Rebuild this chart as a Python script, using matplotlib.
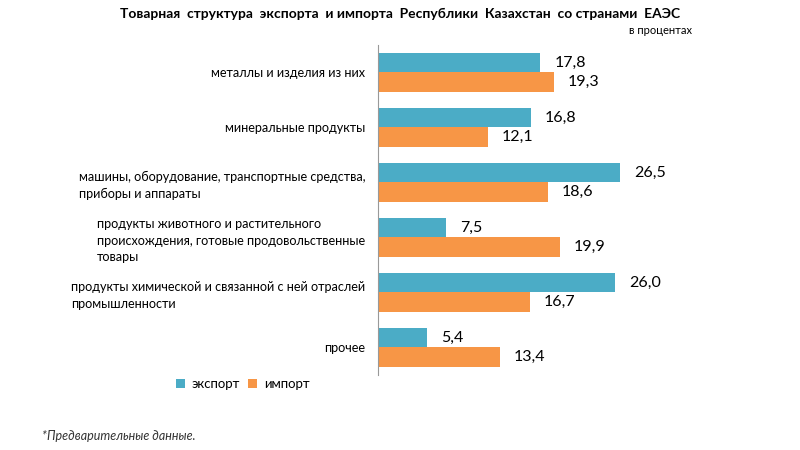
import matplotlib

matplotlib.use("Agg")
import matplotlib.pyplot as plt
import numpy as np

categories = [
    "металлы и изделия из них",
    "минеральные продукты",
    "машины, оборудование, транспортные средства,\nприборы и аппараты",
    "продукты животного и растительного\nпроисхождения, готовые продовольственные\nтовары",
    "продукты химической и связанной с ней отраслей\nпромышленности",
    "прочее",
]
export_vals = [17.8, 16.8, 26.5, 7.5, 26.0, 5.4]
import_vals = [19.3, 12.1, 18.6, 19.9, 16.7, 13.4]

export_color = "#4BACC6"
import_color = "#F79646"

plt.rcParams["font.family"] = ["Lato", "DejaVu Sans"]

fig = plt.figure(figsize=(8, 4.5), dpi=100)
ax = fig.add_axes([0.472, 0.167, 0.40, 0.733])

y = np.arange(len(categories))
h = 0.36
ax.barh(y - h / 2, export_vals, height=h, color=export_color, label="экспорт")
ax.barh(y + h / 2, import_vals, height=h, color=import_color, label="импорт")

for yi, v in zip(y - h / 2, export_vals):
    ax.annotate(f"{v:.1f}".replace(".", ","), (v, yi), xytext=(10, 0),
                textcoords="offset points", va="center", fontsize=11.5)
for yi, v in zip(y + h / 2, import_vals):
    ax.annotate(f"{v:.1f}".replace(".", ","), (v, yi), xytext=(10, 0),
                textcoords="offset points", va="center", fontsize=11.5)

ax.set_ylim(len(categories) - 0.5, -0.5)
ax.set_xlim(0, 35)
ax.set_yticks(y)
ax.set_yticklabels(categories, fontsize=9.1, multialignment="left", linespacing=1.45)
ax.tick_params(axis="y", length=0, pad=9)
ax.set_xticks([])
for side in ["top", "right", "bottom"]:
    ax.spines[side].set_visible(False)
ax.spines["left"].set_color("#999999")

fig.legend(loc="center left", bbox_to_anchor=(0.205, 0.147), ncol=2, frameon=False,
           fontsize=9.5, handlelength=0.7, handleheight=0.7, columnspacing=0.6,
           handletextpad=0.5)

fig.text(0.5, 0.968, "Товарная  структура  экспорта  и импорта  Республики  Казахстан  со странами  ЕАЭС",
         ha="center", va="center", fontsize=10, fontweight="bold")
fig.text(0.865, 0.932, "в процентах", ha="right", va="center", fontsize=8)
fig.text(0.052, 0.03, "*Предварительные данные.", ha="left", va="center",
         fontsize=9, style="italic", color="#333333")

fig.savefig("out.png", dpi=100)
